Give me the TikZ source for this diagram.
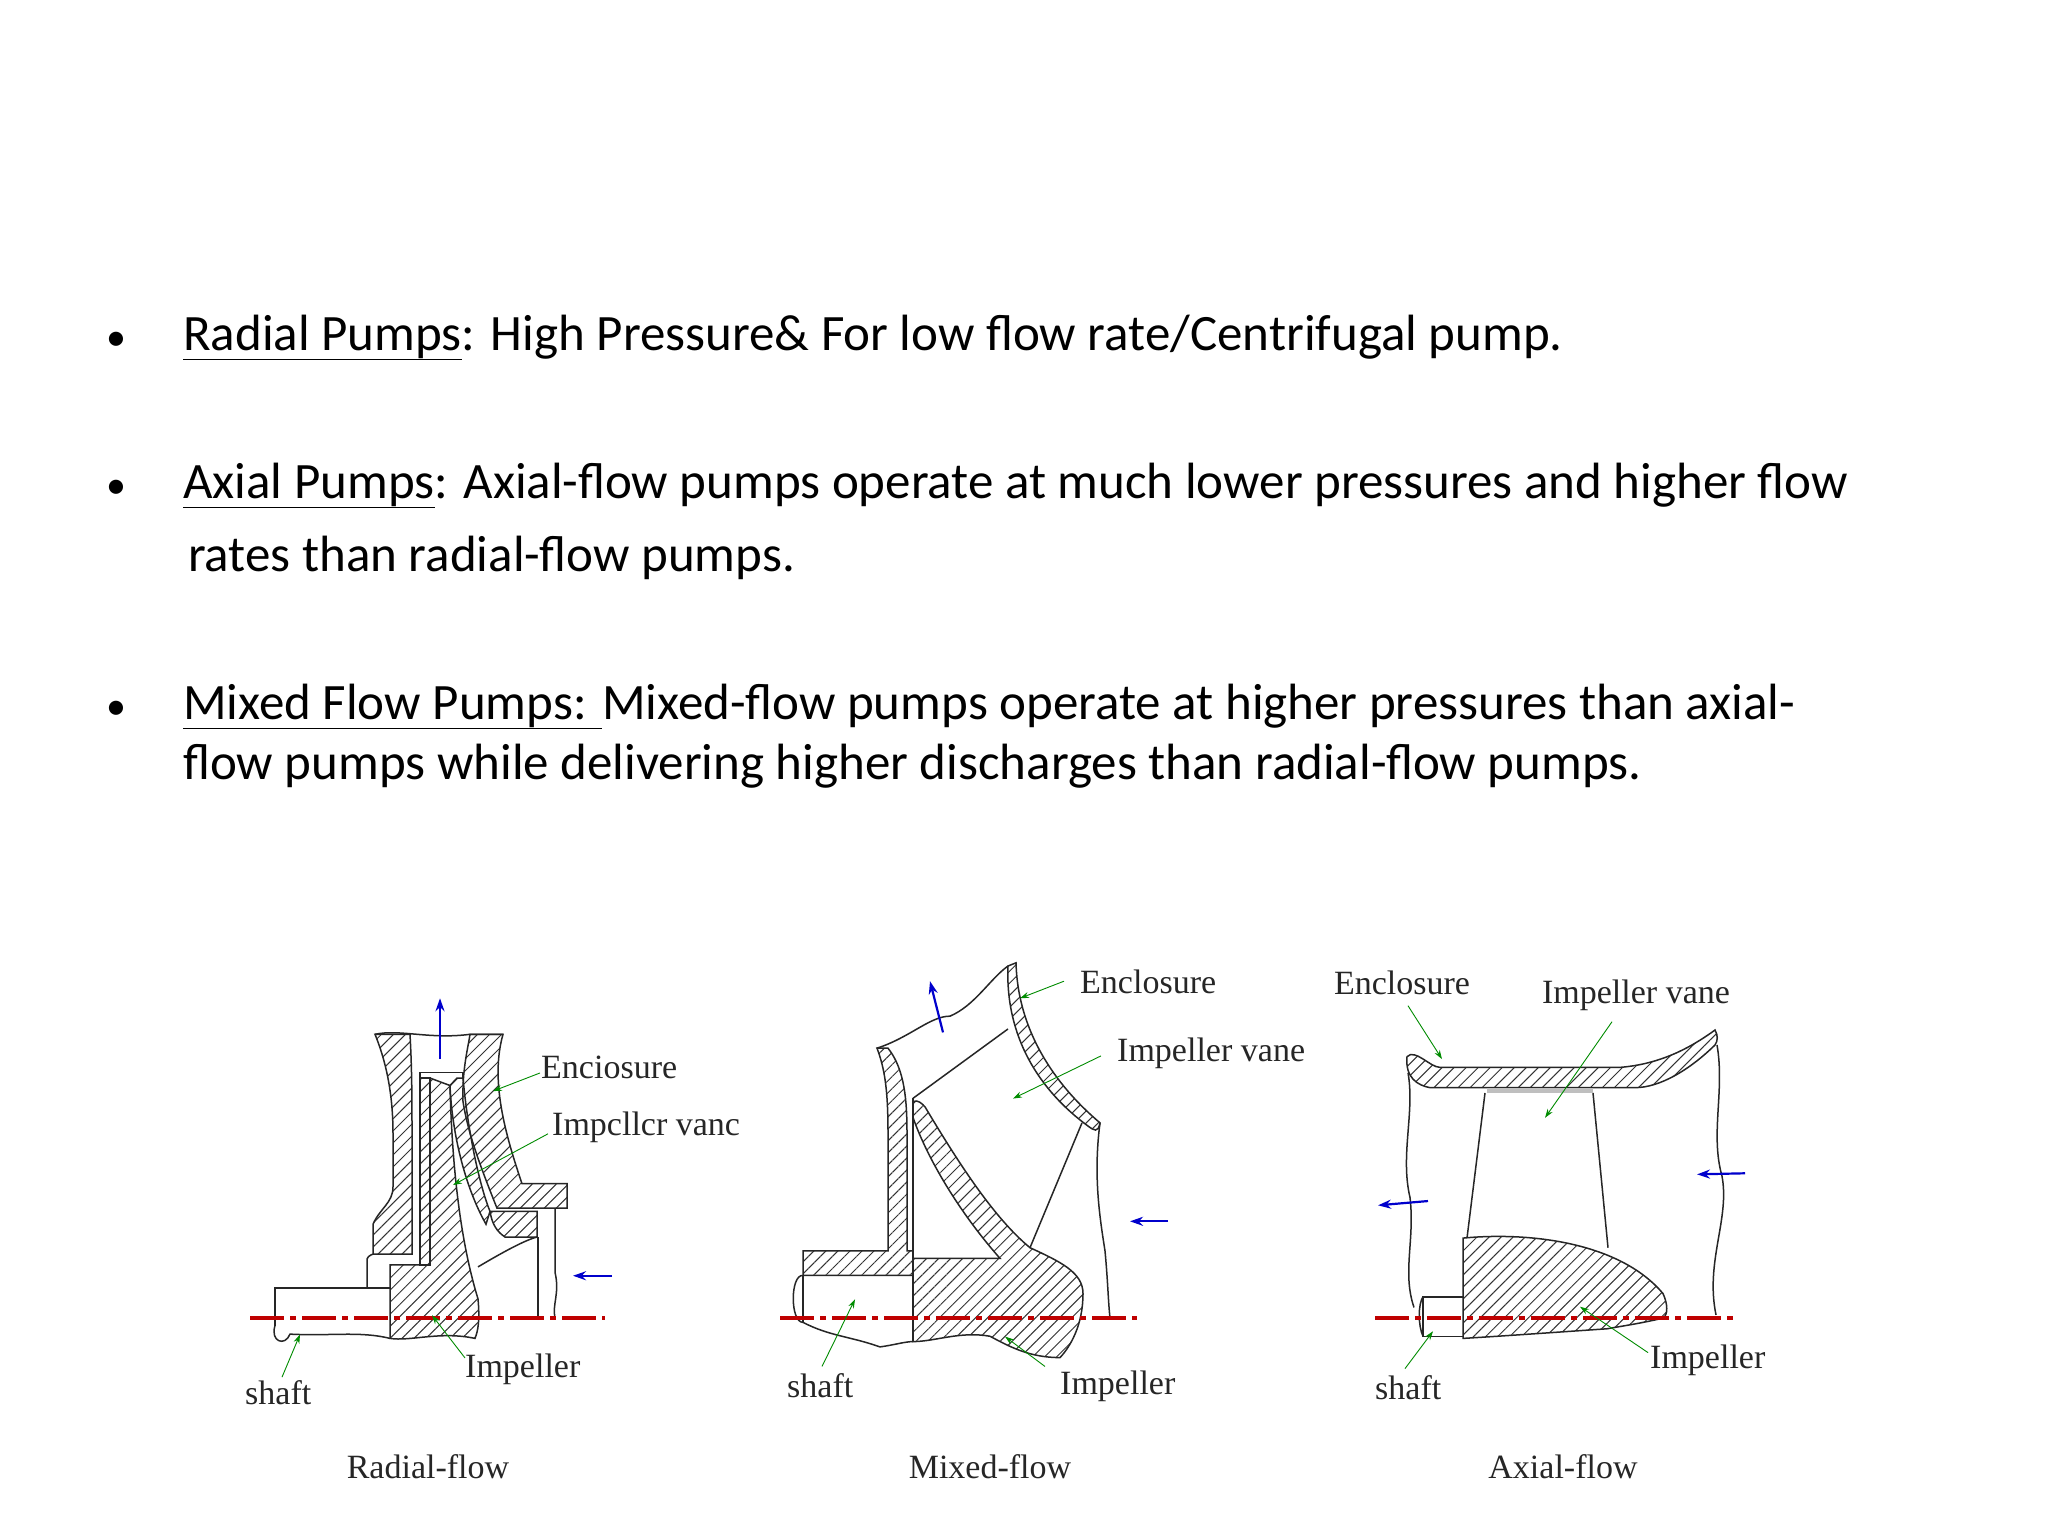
\documentclass[tikz,border=0pt]{standalone}
\usepackage{fontspec}
\setmainfont{Carlito}
\newfontfamily\labfont{Liberation Serif}
\usetikzlibrary{patterns.meta,arrows.meta}
\begin{document}
\begin{tikzpicture}[x=1pt,y=-1pt,
  body/.style={font=\fontsize{51}{60}\selectfont,anchor=base west,inner sep=0},
  bul/.style={font=\fontsize{40}{44}\selectfont,anchor=base west,inner sep=0},
  lbl/.style={font=\labfont\fontsize{34}{38}\selectfont,text=black!85,inner sep=0},
  hatch/.style={draw=black!85,line width=1.5pt,pattern={Lines[angle=45,distance=8.5pt,line width=1pt]},pattern color=black!80},
  outl/.style={draw=black!85,line width=1.5pt},
  lead/.style={draw=green!55!black,line width=0.9pt,-{Stealth[length=9pt,width=6pt]}},
  flow/.style={draw=blue!80!black,line width=2.2pt,-{Stealth[length=13pt,width=9pt]}},
  axisl/.style={draw=red!75!black,line width=3.5pt,dash pattern=on 34pt off 6pt on 6pt off 6pt}]
\useasboundingbox (0,0) rectangle (2048,1536);
\fill[white] (0,0) rectangle (2048,1536);

% ---- text ----
\node[bul] (b1) at (106,350) {•};
\node[body] (t1) at (183,350) {\underline{Radial Pumps}: High Pressure\& For low flow rate/Centrifugal pump.};
\node[bul] (b2) at (106,498) {•};
\node[body] (t2) at (183,498) {\underline{Axial Pumps}: Axial-flow pumps operate at much lower pressures and higher flow};
\node[body] (t2b) at (188,571) {rates than radial-flow pumps.};
\node[bul] (b3) at (106,719) {•};
\node[body] (t3) at (183,719) {\underline{Mixed Flow Pumps: }Mixed-flow pumps operate at higher pressures than axial-};
\node[body] (t3b) at (183,779) {flow pumps while delivering higher discharges than radial-flow pumps.};

\begin{scope}[shift={(0,966)},yscale=1.067,shift={(0,-963)}]
% ================= Radial =================
\path[hatch] (375,1027) -- (410,1027) .. controls (412,1060) and (412,1090) .. (412,1120) -- (412,1233) -- (373,1233) -- (373,1205) .. controls (380,1190) and (393,1185) .. (393,1170) -- (393,1120) .. controls (393,1080) and (385,1050) .. (375,1027) -- cycle;
\path[hatch] (470,1027) -- (503,1027) .. controls (490,1070) and (505,1120) .. (522,1167) -- (567,1167) -- (567,1190) -- (497,1190) .. controls (480,1150) and (468,1120) .. (463,1090) .. controls (462,1060) and (468,1040) .. (470,1027) -- cycle;
\path[hatch] (490,1193) -- (537,1193) -- (537,1217) -- (505,1217) .. controls (497,1212) and (492,1205) .. (490,1193) -- cycle;
\path[hatch] (420,1068) -- (430,1068) -- (430,1243) -- (420,1243) -- cycle;
\path[hatch] (457,1068) -- (463,1068) .. controls (468,1120) and (480,1170) .. (490,1193) -- (486,1205) .. controls (465,1170) and (452,1120) .. (450,1075) -- cycle;
\path[hatch] (390,1243) -- (430,1243) -- (430,1068) -- (450,1075) .. controls (452,1150) and (460,1220) .. (478,1275) .. controls (480,1295) and (478,1305) .. (475,1312) .. controls (440,1305) and (410,1315) .. (390,1312) -- cycle;
\draw[outl] (478,1245) .. controls (505,1230) and (525,1220) .. (537,1217);
\draw[outl] (420,1068) -- (420,1063) -- (463,1063) -- (463,1068);
\draw[outl] (375,1027) .. controls (400,1022) and (430,1032) .. (470,1027) -- (503,1027);
\draw[outl] (390,1265) -- (275,1265) -- (275,1300);
\draw[outl] (275,1300) .. controls (270,1315) and (285,1320) .. (290,1308) .. controls (330,1310) and (360,1305) .. (390,1312);
\draw[outl] (367,1265) -- (367,1240) .. controls (366,1236) and (370,1234) .. (373,1233);
\draw[outl] (538,1217) -- (538,1293);
\draw[outl] (555,1190) -- (555,1250) .. controls (560,1270) and (552,1280) .. (555,1293);
\draw[axisl] (250,1293) -- (605,1293);
\coordinate (ra1) at (440,1050); \coordinate (ra2) at (440,993);
\draw[flow] (ra1) -- (ra2);
\coordinate (rb1) at (612,1253); \coordinate (rb2) at (573,1253);
\draw[flow] (rb1) -- (rb2);
\coordinate (rEe) at (493,1080); \coordinate (rVe) at (453,1168);
\coordinate (rIe) at (432,1290); \coordinate (rSe) at (300,1308);
\coordinate (rEs) at (540,1063); \coordinate (rVs) at (548,1120);
\coordinate (rIs) at (465,1330); \coordinate (rSs) at (282,1348);
\draw[lead] (rEs) -- (rEe);
\draw[lead] (rVs) -- (rVe);
\draw[lead] (rIs) -- (rIe);
\draw[lead] (rSs) -- (rSe);

% ================= Mixed =================
\draw[outl] (877,1040) .. controls (910,1030) and (930,1010) .. (950,1010) .. controls (975,1000) and (990,975) .. (1008,963);
\path[hatch] (877,1040) -- (888,1040) .. controls (905,1060) and (907,1090) .. (907,1120) -- (907,1230) -- (913,1230) -- (913,1253) -- (803,1253) -- (803,1230) -- (888,1230) -- (888,1120) .. controls (888,1080) and (885,1060) .. (877,1040) -- cycle;
\path[hatch] (1008,963) -- (1016,960) .. controls (1018,1030) and (1062,1080) .. (1100,1110) .. controls (1098,1120) and (1094,1117) .. (1088,1113) .. controls (1040,1080) and (1005,1030) .. (1008,963) -- cycle;
\draw[outl] (913,1087) -- (1008,1022);
\path[hatch] (913,1090) .. controls (918,1088) and (922,1092) .. (925,1095) .. controls (960,1150) and (995,1200) .. (1030,1227) .. controls (1060,1240) and (1083,1250) .. (1083,1270) .. controls (1083,1300) and (1070,1320) .. (1060,1330) .. controls (1030,1330) and (1010,1320) .. (990,1310) .. controls (960,1305) and (935,1315) .. (913,1315) -- (913,1237) -- (1000,1237) .. controls (965,1200) and (930,1150) .. (913,1105) -- cycle;
\draw[outl] (913,1087) -- (913,1315);
\draw[outl] (1082,1110) -- (1030,1227);
\draw[outl] (1100,1110) .. controls (1093,1160) and (1100,1200) .. (1105,1230) .. controls (1108,1260) and (1108,1275) .. (1110,1293);
\draw[outl] (803,1253) .. controls (790,1252) and (790,1297) .. (803,1297);
\draw[outl] (803,1297) .. controls (830,1310) and (850,1310) .. (880,1320) .. controls (895,1318) and (905,1315) .. (913,1315);
\draw[outl] (803,1253) -- (803,1297);
\draw[axisl] (780,1293) -- (1137,1293);
\coordinate (ma1) at (943,1025); \coordinate (ma2) at (930,977);
\draw[flow] (ma1) -- (ma2);
\coordinate (mb1) at (1168,1202); \coordinate (mb2) at (1130,1202);
\draw[flow] (mb1) -- (mb2);
\coordinate (mEe) at (1020,993); \coordinate (mVe) at (1013,1087);
\coordinate (mIe) at (1005,1310); \coordinate (mSe) at (855,1275);
\coordinate (mEs) at (1064,977); \coordinate (mVs) at (1101,1047);
\coordinate (mIs) at (1045,1338); \coordinate (mSs) at (822,1338);
\draw[lead] (mEs) -- (mEe);
\draw[lead] (mVs) -- (mVe);
\draw[lead] (mIs) -- (mIe);
\draw[lead] (mSs) -- (mSe);

% ================= Axial =================
\path[hatch] (1407,1048) .. controls (1415,1040) and (1430,1058) .. (1440,1058) -- (1620,1058) .. controls (1660,1055) and (1690,1040) .. (1715,1023) .. controls (1718,1028) and (1718,1033) .. (1715,1037) .. controls (1690,1060) and (1660,1077) .. (1635,1077) -- (1430,1077) .. controls (1418,1075) and (1405,1068) .. (1407,1048) -- cycle;
\fill[black!25] (1487,1077) rectangle (1593,1082);
\draw[outl] (1408,1063) .. controls (1415,1100) and (1400,1140) .. (1410,1180) .. controls (1415,1220) and (1402,1250) .. (1414,1283);
\draw[outl] (1717,1037) .. controls (1725,1080) and (1710,1120) .. (1722,1160) .. controls (1730,1200) and (1705,1240) .. (1716,1290);
\draw[outl] (1485,1082) -- (1467,1218);
\draw[outl] (1593,1082) -- (1608,1227);
\path[hatch] (1463,1218) .. controls (1530,1212) and (1620,1222) .. (1663,1270) .. controls (1668,1280) and (1668,1290) .. (1663,1293) .. controls (1640,1298) and (1625,1300) .. (1607,1303) .. controls (1560,1306) and (1500,1310) .. (1463,1312) -- cycle;
\draw[outl] (1463,1273) -- (1423,1273) -- (1423,1310) -- (1463,1310);
\draw[outl] (1423,1273) .. controls (1418,1280) and (1418,1300) .. (1423,1310);
\draw[axisl] (1375,1293) -- (1733,1293);
\coordinate (aa1) at (1428,1183); \coordinate (aa2) at (1378,1187);
\draw[flow] (aa1) -- (aa2);
\coordinate (ab1) at (1745,1157); \coordinate (ab2) at (1697,1158);
\draw[flow] (ab1) -- (ab2);
\coordinate (aEe) at (1442,1050); \coordinate (aVe) at (1545,1105);
\coordinate (aIe) at (1580,1282); \coordinate (aSe) at (1433,1305);
\coordinate (aEs) at (1408,1000); \coordinate (aVs) at (1612,1015);
\coordinate (aIs) at (1648,1325); \coordinate (aSs) at (1405,1340);
\draw[lead] (aEs) -- (aEe);
\draw[lead] (aVs) -- (aVe);
\draw[lead] (aIs) -- (aIe);
\draw[lead] (aSs) -- (aSe);
\end{scope}

% ---- labels ----
\node[lbl,anchor=west] (rEnc) at (541,1067) {Enciosure};
\node[lbl,anchor=west] (rVane) at (552,1127) {Impcllcr vanc};
\node[lbl,anchor=west] (rImp) at (465,1369) {Impeller};
\node[lbl,anchor=west] (rSh) at (245,1393) {shaft};
\node[lbl] (rT) at (428,1467) {Radial-flow};
\node[lbl,anchor=west] (mEnc) at (1080,982) {Enclosure};
\node[lbl,anchor=west] (mVane) at (1117,1053) {Impeller vane};
\node[lbl,anchor=west] (mImp) at (1060,1386) {Impeller};
\node[lbl,anchor=west] (mSh) at (787,1386) {shaft};
\node[lbl] (mT) at (990,1467) {Mixed-flow};
\node[lbl] (aEnc) at (1402,983) {Enclosure};
\node[lbl] (aVane) at (1636,995) {Impeller vane};
\node[lbl,anchor=west] (aImp) at (1650,1360) {Impeller};
\node[lbl,anchor=west] (aSh) at (1375,1388) {shaft};
\node[lbl] (aT) at (1563,1467) {Axial-flow};
\end{tikzpicture}
\end{document}
